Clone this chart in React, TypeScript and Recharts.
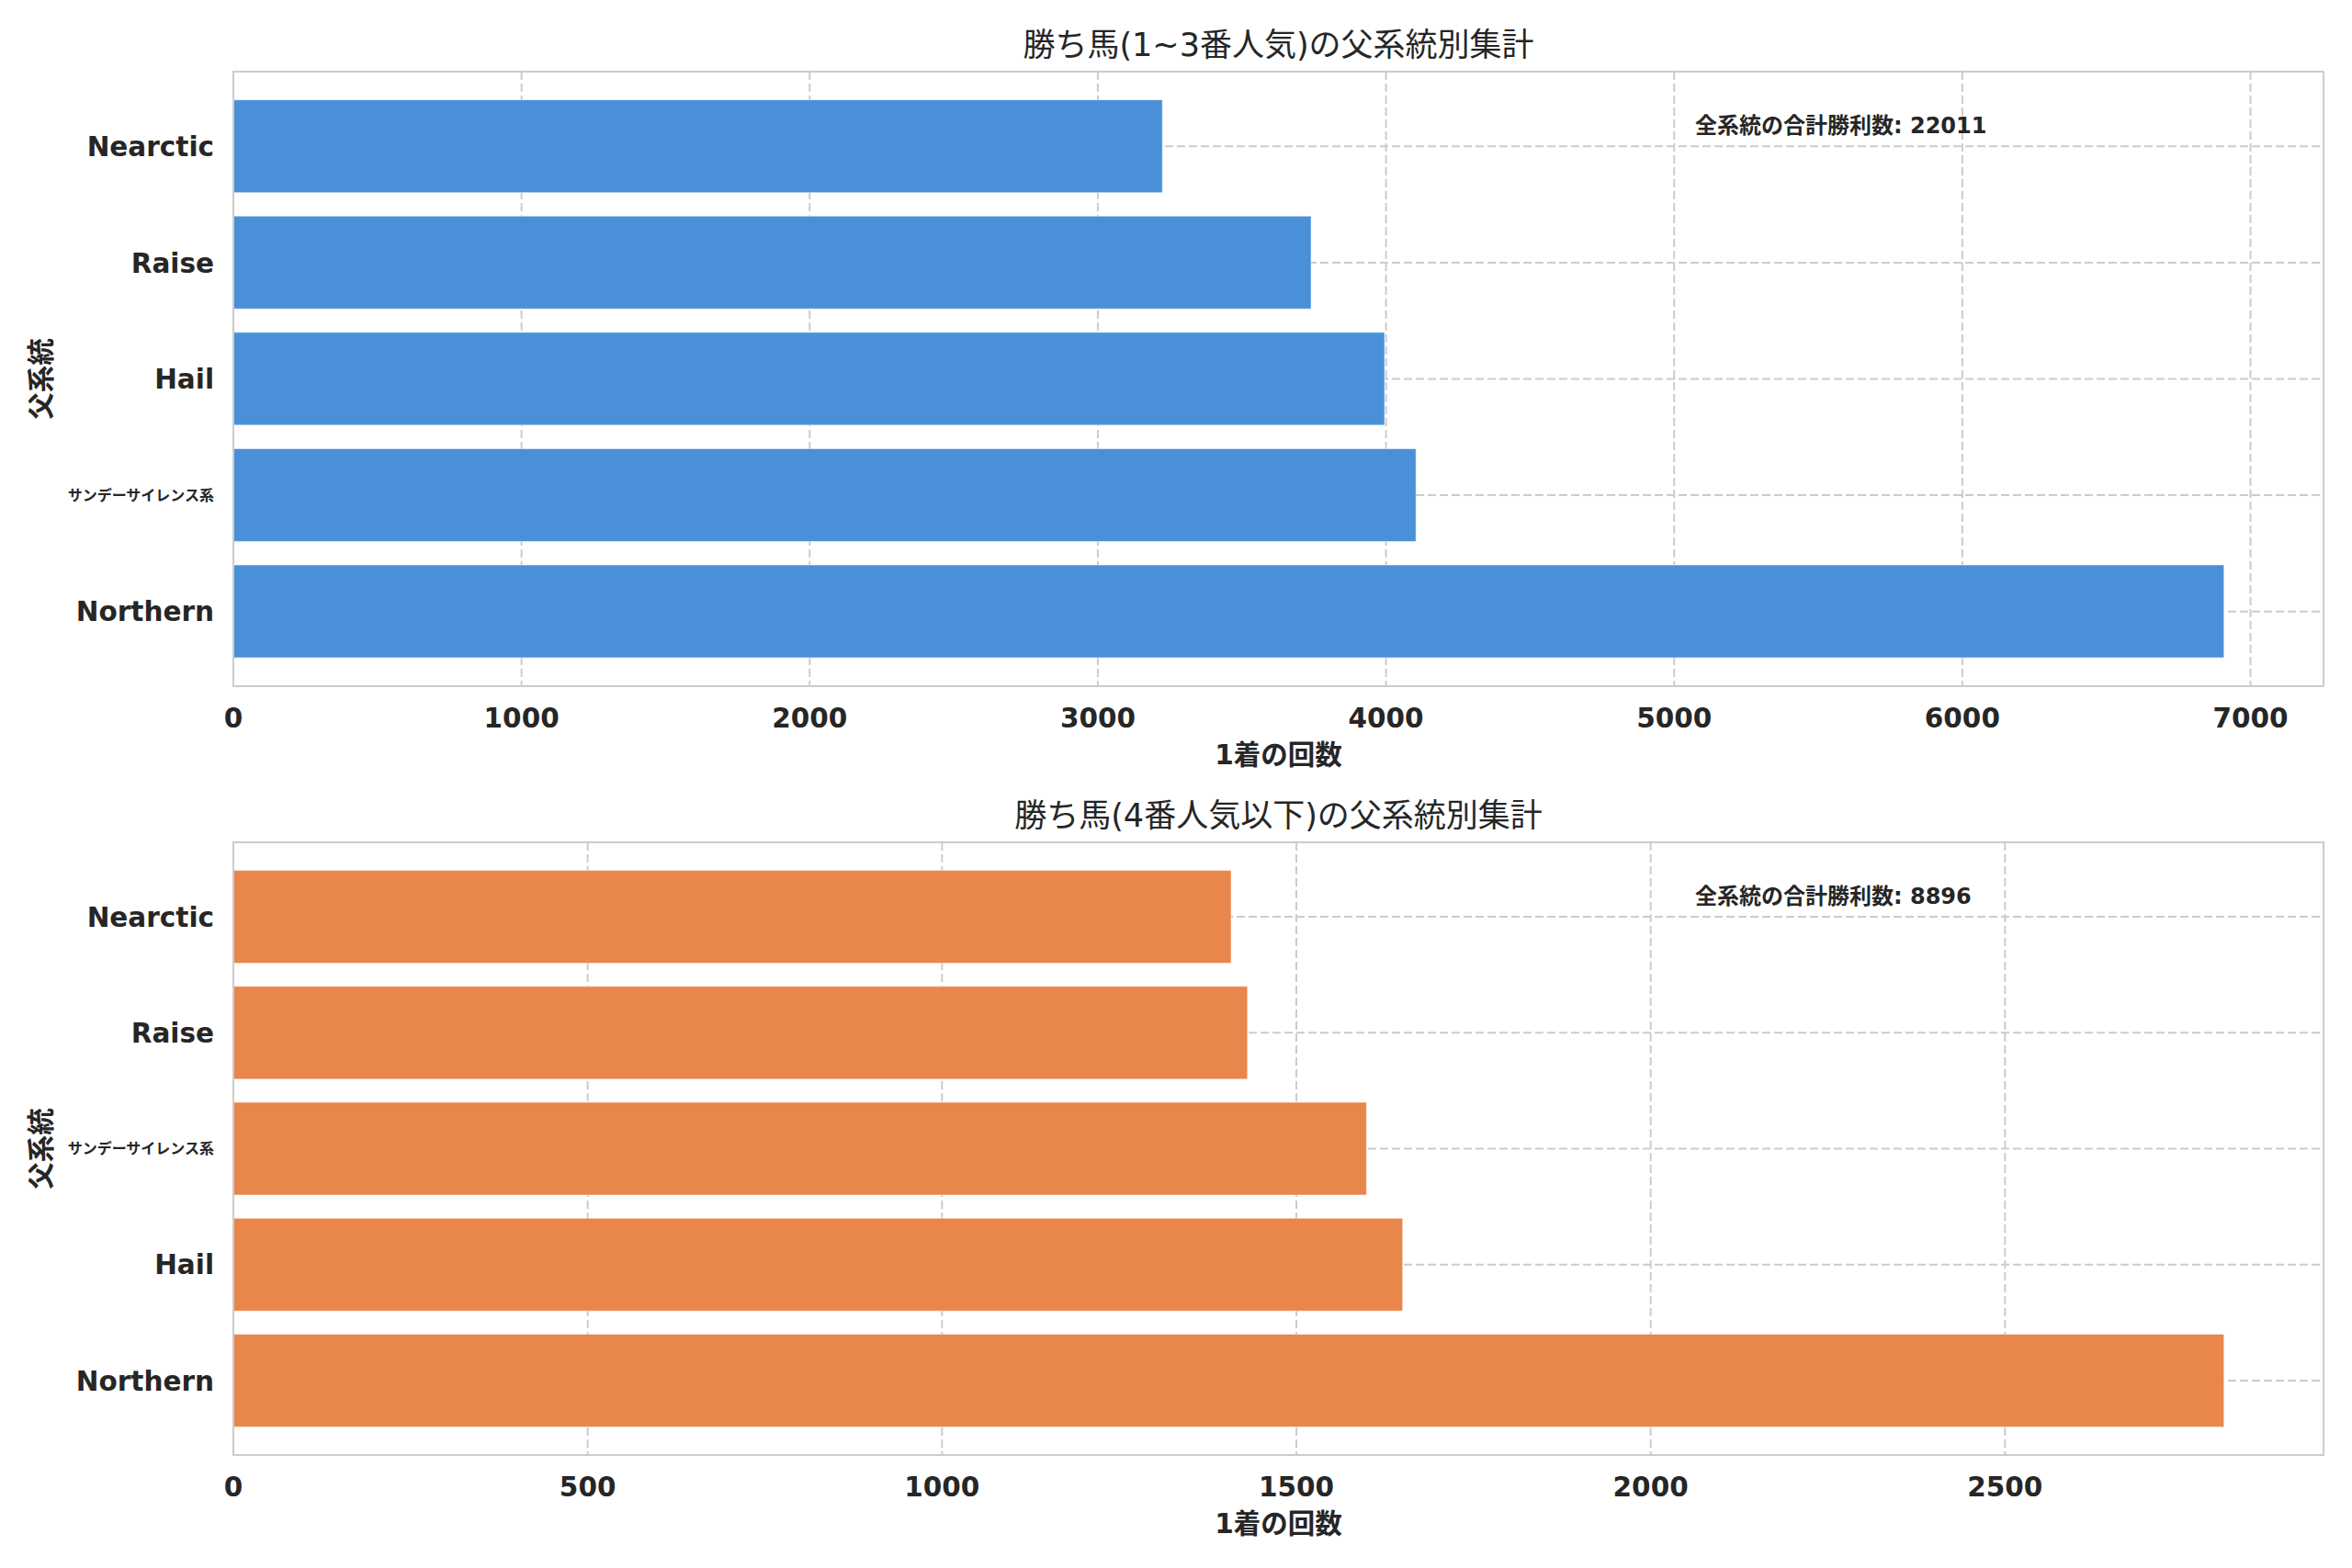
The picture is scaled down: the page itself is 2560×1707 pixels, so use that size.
import React from 'react';
import { BarChart, Bar, XAxis, YAxis, CartesianGrid } from 'recharts';

// 父系統ごとの1着回数 (上: 1~3番人気, 下: 4番人気以下)
const topLines = ['Nearctic', 'Raise', 'Hail', 'サンデーサイレンス系', 'Northern'];
const topWins = [3224, 3740, 3995, 4104, 6908];
const topTicks = [0, 1000, 2000, 3000, 4000, 5000, 6000, 7000];
const topTotal = 22011;

const bottomLines = ['Nearctic', 'Raise', 'サンデーサイレンス系', 'Hail', 'Northern'];
const bottomWins = [1408, 1431, 1599, 1650, 2809];
const bottomTicks = [0, 500, 1000, 1500, 2000, 2500];
const bottomTotal = 8896;

const FONT = "'DejaVu Sans', 'Noto Sans CJK JP', sans-serif";
const INK = '#262626';
const GRID = '#cccccc';
const PLOT_LEFT = 254;
const PLOT_RIGHT = 31;

const isLatin = (s: string) => /^[\x00-\x7f]*$/.test(s);

const CategoryTick = (props: any) => {
  const { x, y, payload } = props;
  const v = String(payload.value);
  return (
    <text x={x} y={y} dy="0.36em" textAnchor="end" fontSize={isLatin(v) ? 29.5 : 16}
      fontWeight="bold" fill={INK}>
      {v}
    </text>
  );
};

interface SireChartProps {
  title: string;
  lines: string[];
  wins: number[];
  ticks: number[];
  total: number;
  color: string;
  top: number;
  height: number;
  marginTop: number;
  axisHeight: number;
}

const SireChart: React.FC<SireChartProps> = ({ title, lines, wins, ticks, total, color, top, height, marginTop, axisHeight }) => {
  const data = lines.map((line, i) => ({ line, wins: wins[i] }));
  const xMax = Math.max(...wins) * 1.05;
  const plotW = 2560 - PLOT_LEFT - PLOT_RIGHT;
  const plotH = height - marginTop - axisHeight;
  return (
    <div style={{ position: 'absolute', left: 0, top, width: 2560, height }}>
      <div style={{ position: 'absolute', left: PLOT_LEFT, width: plotW, top: marginTop - 29 - 22, height: 44,
        lineHeight: '44px', textAlign: 'center', fontSize: 35, color: INK }}>
        {title}
      </div>
      <BarChart width={2560} height={height} data={data} layout="vertical"
        margin={{ top: marginTop, right: PLOT_RIGHT, bottom: 0, left: 0 }} barCategoryGap="10%">
        <CartesianGrid stroke={GRID} strokeWidth={2} strokeDasharray="9 4" />
        <XAxis type="number" dataKey="wins" domain={[0, xMax]} ticks={ticks} height={axisHeight}
          axisLine={false} tickLine={false} tickSize={0} tickMargin={24}
          tick={{ fill: INK, fontSize: 29.5, fontWeight: 'bold' }}
          label={{
            content: ({ viewBox }: any) => (
              <text x={viewBox.x + viewBox.width / 2} y={viewBox.y + 85} textAnchor="middle"
                fontSize={29.5} fontWeight="bold" fill={INK}>1着の回数</text>
            ),
          }} />
        <YAxis type="category" dataKey="line" width={PLOT_LEFT} padding={{ top: 18, bottom: 18 }}
          axisLine={false} tickLine={false} tickSize={0} tickMargin={21} tick={<CategoryTick />}
          label={{
            content: ({ viewBox }: any) => {
              const cx = viewBox.x + 44;
              const cy = viewBox.y + viewBox.height / 2;
              return (
                <text x={cx} y={cy} dy="0.36em" textAnchor="middle" transform={`rotate(-90, ${cx}, ${cy})`}
                  fontSize={29.5} fontWeight="bold" fill={INK}>父系統</text>
              );
            },
          }} />
        <Bar dataKey="wins" fill={color} stroke="#ffffff" strokeOpacity={0.5} strokeWidth={1}
          isAnimationActive={false} />
      </BarChart>
      {/* axes frame */}
      <div style={{ position: 'absolute', left: PLOT_LEFT - 1.25, top: marginTop - 1.25, width: plotW + 2.5,
        height: plotH + 2.5, border: `2.5px solid ${GRID}`, boxSizing: 'border-box', pointerEvents: 'none' }} />
      <div style={{ position: 'absolute', left: 1845, top: marginTop + 59 - 15, height: 30, lineHeight: '30px',
        fontSize: 24, fontWeight: 'bold', color: INK, whiteSpace: 'nowrap' }}>
        全系統の合計勝利数: {total}
      </div>
    </div>
  );
};

export default function App() {
  return (
    <div style={{ position: 'absolute', left: 0, top: 0, width: 2560, height: 1707, background: '#ffffff', fontFamily: FONT }}>
      <SireChart title="勝ち馬(1~3番人気)の父系統別集計" lines={topLines} wins={topWins} ticks={topTicks}
        total={topTotal} color="#4a90d9" top={0} height={860} marginTop={78} axisHeight={113} />
      <SireChart title="勝ち馬(4番人気以下)の父系統別集計" lines={bottomLines} wins={bottomWins} ticks={bottomTicks}
        total={bottomTotal} color="#e8864c" top={860} height={847} marginTop={57} axisHeight={123} />
    </div>
  );
}
